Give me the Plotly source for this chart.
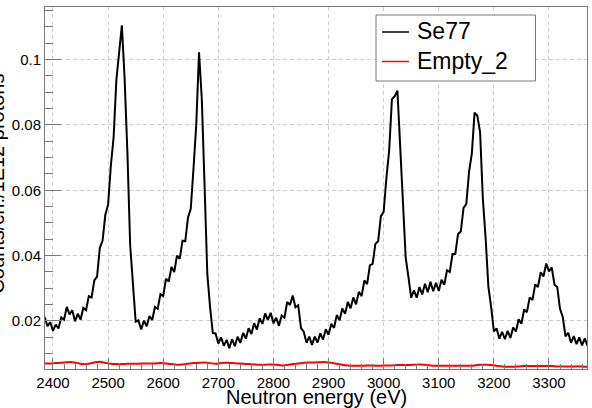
import plotly.graph_objects as go

# Se77 counts per channel (5 eV channels starting at 2385 eV)
se77_start = 2385
se77_step = 5
se77 = [
    0.0212, 0.0184, 0.0196, 0.0170, 0.0189, 0.0177, 0.0211, 0.0204, 0.0243, 0.0220,
    0.0233, 0.0199, 0.0222, 0.0204, 0.0240, 0.0233, 0.0276, 0.0272, 0.0324, 0.0336,
    0.0424, 0.0446, 0.0525, 0.0556, 0.0676, 0.0762, 0.0938, 0.1022, 0.1105, 0.0940,
    0.0718, 0.0434, 0.0314, 0.0198, 0.0202, 0.0174, 0.0201, 0.0184, 0.0215, 0.0203,
    0.0243, 0.0237, 0.0282, 0.0276, 0.0329, 0.0321, 0.0365, 0.0350, 0.0400, 0.0390,
    0.0446, 0.0444, 0.0517, 0.0543, 0.0668, 0.0802, 0.1022, 0.0880, 0.0618, 0.0344,
    0.0243, 0.0163, 0.0162, 0.0131, 0.0150, 0.0124, 0.0142, 0.0117, 0.0144, 0.0123,
    0.0152, 0.0133, 0.0163, 0.0146, 0.0178, 0.0160, 0.0193, 0.0174, 0.0208, 0.0191,
    0.0223, 0.0203, 0.0225, 0.0193, 0.0210, 0.0185, 0.0217, 0.0210, 0.0258, 0.0249,
    0.0278, 0.0242, 0.0248, 0.0178, 0.0167, 0.0133, 0.0152, 0.0127, 0.0152, 0.0134,
    0.0162, 0.0143, 0.0175, 0.0158, 0.0191, 0.0179, 0.0218, 0.0202, 0.0238, 0.0222,
    0.0258, 0.0239, 0.0272, 0.0251, 0.0289, 0.0276, 0.0324, 0.0313, 0.0370, 0.0375,
    0.0436, 0.0444, 0.0521, 0.0534, 0.0637, 0.0722, 0.0878, 0.0888, 0.0905, 0.0742,
    0.0578, 0.0394, 0.0334, 0.0271, 0.0294, 0.0271, 0.0304, 0.0281, 0.0314, 0.0288,
    0.0320, 0.0291, 0.0317, 0.0292, 0.0326, 0.0311, 0.0355, 0.0350, 0.0405, 0.0405,
    0.0466, 0.0474, 0.0546, 0.0558, 0.0657, 0.0712, 0.0838, 0.0828, 0.0778, 0.0574,
    0.0455, 0.0306, 0.0243, 0.0168, 0.0177, 0.0146, 0.0167, 0.0144, 0.0170, 0.0148,
    0.0180, 0.0168, 0.0205, 0.0192, 0.0235, 0.0227, 0.0272, 0.0264, 0.0312, 0.0304,
    0.0349, 0.0336, 0.0376, 0.0352, 0.0364, 0.0311, 0.0304, 0.0237, 0.0212, 0.0153,
    0.0164, 0.0133, 0.0154, 0.0129, 0.0150, 0.0125, 0.0147, 0.0124,
]
se77_energy = [se77_start + se77_step * i for i in range(len(se77))]

# Empty_2 counts per channel (10 eV channels starting at 2385 eV)
empty_start = 2385
empty_step = 10
empty2 = [
    0.0070, 0.0070, 0.0071, 0.0072, 0.0074, 0.0074, 0.0071, 0.0068, 0.0069, 0.0073,
    0.0075, 0.0072, 0.0069, 0.0068, 0.0068, 0.0069, 0.0069, 0.0069, 0.0070, 0.0070,
    0.0070, 0.0071, 0.0070, 0.0068, 0.0066, 0.0067, 0.0069, 0.0071, 0.0072, 0.0073,
    0.0071, 0.0069, 0.0071, 0.0072, 0.0071, 0.0070, 0.0069, 0.0068, 0.0067, 0.0066,
    0.0066, 0.0067, 0.0066, 0.0064, 0.0065, 0.0068, 0.0070, 0.0072, 0.0073, 0.0073,
    0.0074, 0.0074, 0.0072, 0.0069, 0.0066, 0.0064, 0.0063, 0.0063, 0.0063, 0.0064,
    0.0063, 0.0063, 0.0064, 0.0064, 0.0065, 0.0065, 0.0065, 0.0066, 0.0067, 0.0066,
    0.0064, 0.0063, 0.0063, 0.0063, 0.0063, 0.0063, 0.0063, 0.0063, 0.0064, 0.0066,
    0.0066, 0.0065, 0.0063, 0.0061, 0.0060, 0.0060, 0.0061, 0.0062, 0.0062, 0.0062,
    0.0062, 0.0062, 0.0062, 0.0061, 0.0061, 0.0061, 0.0061, 0.0061, 0.0060, 0.0060,
]
empty_energy = [empty_start + empty_step * i for i in range(len(empty2))]

x_ticks = [2400, 2500, 2600, 2700, 2800, 2900, 3000, 3100, 3200, 3300]
y_ticks = [0.02, 0.04, 0.06, 0.08, 0.1]
y_tick_text = ["0.02", "0.04", "0.06", "0.08", "0.1"]
x_title = "Neutron energy (eV)"
y_title = "Counts/ch./1E12 protons"

FONT = "Liberation Sans, Arial, Helvetica, sans-serif"
FRAME = "#7a7a7a"
GRID = "#cccccc"

W, H = 592, 408
ML, MR, MT, MB = 45, 5, 7, 39
PW, PH = W - ML - MR, H - MT - MB


def px_to_paper(px, py):
    return (px - ML) / PW, 1 - (py - MT) / PH


fig = go.Figure()
fig.add_trace(go.Scatter(
    x=se77_energy, y=se77, mode="lines", name="Se77",
    line=dict(color="black", width=2.0), showlegend=False,
))
fig.add_trace(go.Scatter(
    x=empty_energy, y=empty2, mode="lines", name="Empty_2",
    line=dict(color="#ff0000", width=2, shape="spline"), showlegend=False,
))

axis_common = dict(
    showline=True, linecolor=FRAME, linewidth=1, mirror=True,
    showgrid=True, gridcolor=GRID, griddash="4px,3px", gridwidth=1,
    zeroline=False, ticks="inside", tickcolor=FRAME, tickwidth=1,
    tickfont=dict(family=FONT, size=15, color="black"),
)

# Legend box drawn from the traces' names and colours
shapes = []
annotations = []
bx0, by0 = px_to_paper(376, 15)
bx1, by1 = px_to_paper(535.5, 81)
shapes.append(dict(type="rect", xref="paper", yref="paper", x0=bx0, x1=bx1,
                   y0=by1, y1=by0, line=dict(color=FRAME, width=1),
                   fillcolor="white", layer="above"))
row_y = [32, 61.5]
for tr, ry in zip(fig.data, row_y):
    lx0, ly = px_to_paper(382, ry)
    lx1, _ = px_to_paper(409, ry)
    shapes.append(dict(type="line", xref="paper", yref="paper", x0=lx0, x1=lx1,
                       y0=ly, y1=ly, line=dict(color=tr.line.color, width=1.5),
                       layer="above"))
    tx, ty = px_to_paper(415, ry)
    annotations.append(dict(text=tr.name, xref="paper", yref="paper", x=tx, y=ty,
                            xanchor="left", yanchor="middle", yshift=1, showarrow=False,
                            font=dict(family=FONT, size=23, color="black")))

annotations += [
    dict(text=x_title, xref="paper", yref="paper", x=0.5, y=0,
         xanchor="center", yanchor="middle", yshift=-28, showarrow=False,
         font=dict(family=FONT, size=20, color="black")),
    dict(text=y_title, xref="paper", yref="paper", x=0, y=0.512,
         xanchor="center", yanchor="middle", xshift=-48, textangle=-90,
         showarrow=False, font=dict(family=FONT, size=20, color="black")),
]

fig.update_layout(
    width=W, height=H,
    margin=dict(l=ML, r=MR, t=MT, b=MB),
    paper_bgcolor="white", plot_bgcolor="white",
    font=dict(family=FONT, color="black"),
    showlegend=False,
    xaxis=dict(
        range=[2385.5, 3369], tickvals=x_ticks, ticklen=11,
        minor=dict(dtick=20, tick0=2400, ticks="inside", ticklen=5,
                   tickcolor=FRAME, showgrid=False),
        **axis_common,
    ),
    yaxis=dict(
        range=[0.0053, 0.1161], tickvals=y_ticks, ticktext=y_tick_text, ticklen=16,
        minor=dict(dtick=0.005, tick0=0, ticks="inside", ticklen=8,
                   tickcolor=FRAME, showgrid=False),
        **axis_common,
    ),
    shapes=shapes,
    annotations=annotations,
)

fig.write_html("out.html")
